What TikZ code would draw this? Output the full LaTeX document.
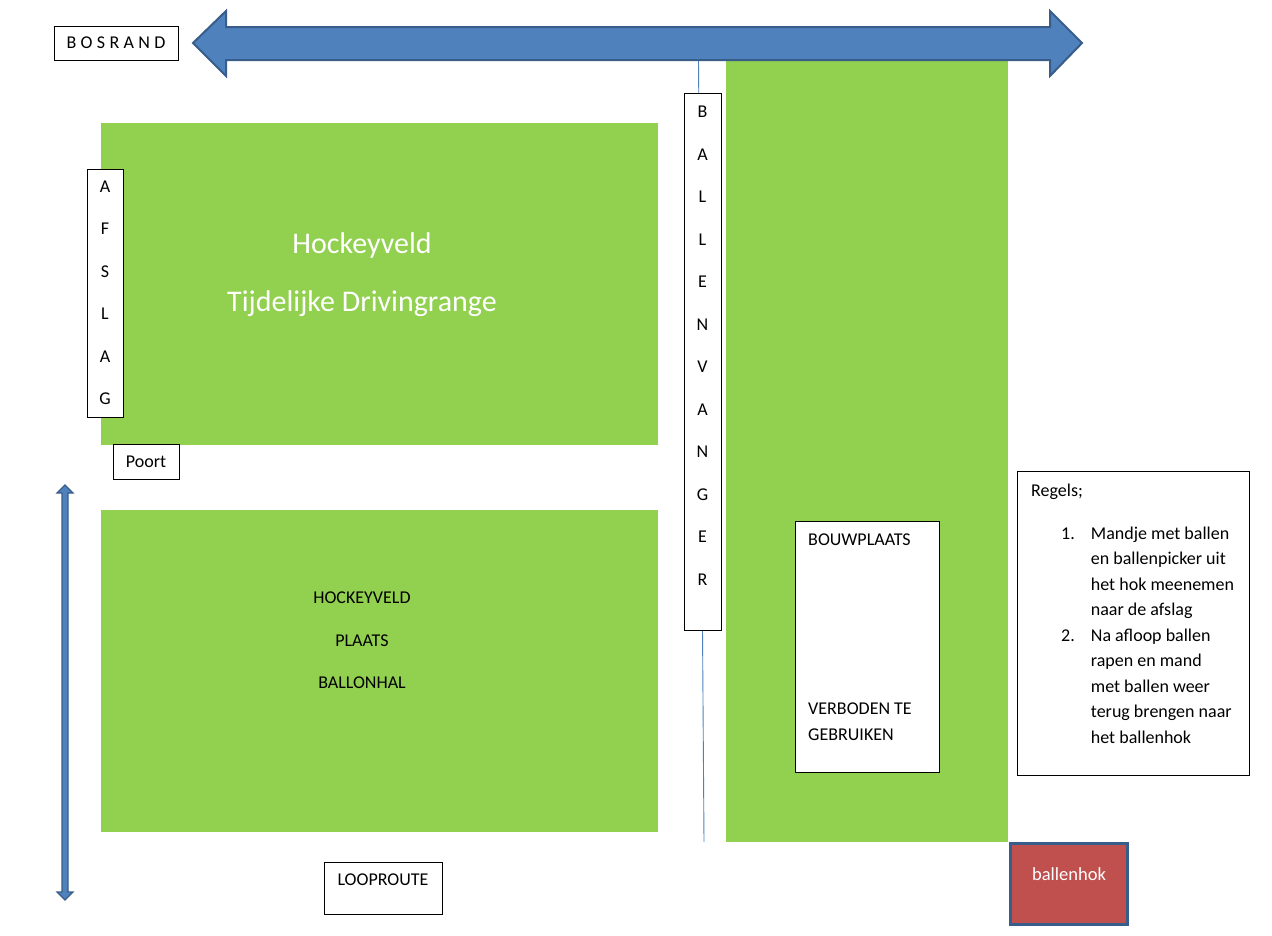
\documentclass[tikz,border=0pt]{standalone}
\usepackage{fontspec}
\setmainfont{Carlito}
\usetikzlibrary{positioning}

\definecolor{grasgroen}{HTML}{92D050}
\definecolor{pijlblauw}{HTML}{4F81BD}
\definecolor{pijlrand}{HTML}{385D8A}
\definecolor{hokrood}{HTML}{C0504D}

\begin{document}
\begin{tikzpicture}
  [x=1pt, y=-1pt,
  bord/.style={draw, fill=white, line width=1pt, inner sep=0pt},
  tekst/.style={font=\fontsize{18}{25.5}\selectfont, inner sep=0pt},
  stapel/.style={font=\fontsize{18}{42.5}\selectfont, align=center, inner sep=0pt},
  groot/.style={font=\fontsize{30}{36}\selectfont, text=white, inner sep=0pt},
  pijl/.style={fill=pijlblauw, draw=pijlrand, line join=miter}]
\useasboundingbox (0,0) rectangle (1272,935);

\draw [pijlblauw, line width=0.9pt] (698.5,60) -- (704,842);
\fill [grasgroen] (101,123) rectangle (658,445);
\fill [grasgroen] (101,510) rectangle (658,832);
\fill [grasgroen] (726,60) rectangle (1008,842);

\draw [pijl, line width=2pt] (193,43) -- (226,11) -- (226,27) -- (1050,27)
  -- (1050,11) -- (1082,43) -- (1050,76) -- (1050,60) -- (226,60)
  -- (226,76) -- cycle;
\draw [pijl, line width=1.2pt] (65,485) -- (73,493) -- (68,493) -- (68,892)
  -- (73,892) -- (65,900) -- (57,892) -- (62,892) -- (62,493)
  -- (57,493) -- cycle;

\node [bord, tekst, minimum width=124pt, minimum height=34pt] (bosrand) at (116,43)
  {B\hspace{4.3pt}O\hspace{4.3pt}S\hspace{4.3pt}R\hspace{4.3pt}A\hspace{4.3pt}N\hspace{4.3pt}D};

\node [groot, anchor=base] (hockeyveld) at (362,253.7) {Hockeyveld};
\node [groot, anchor=base] (drivingrange) at (362,311.7) {Tijdelijke Drivingrange};

\node [bord, stapel, minimum width=36pt, minimum height=248pt] (afslag) at (105,293)
  {A\\F\\S\\L\\A\\G};
\node [bord, tekst, minimum width=66pt, minimum height=35pt,
  text height=11.6pt, text depth=0pt] (poort) at (146,461.5) {Poort};

\node [bord, minimum width=37pt, minimum height=537pt] (vangerkader) at (702.5,361.5) {};
\node [stapel] (vanger) at (702.5,345.7) {B\\A\\L\\L\\E\\N\\V\\A\\N\\G\\E\\R};

\node [stapel] (ballonhal) at (362,640.7) {HOCKEYVELD\\PLAATS\\BALLONHAL};

\node [bord, minimum width=144pt, minimum height=251pt] (bouwplaats) at (867,646.5) {};
\node [tekst, anchor=base west] (bouwtekst) at (808,545.8) {BOUWPLAATS};
\node [tekst, anchor=base west] (verboden) at (808,714.8) {VERBODEN TE};
\node [tekst, anchor=base west] (gebruiken) at (808,740.8) {GEBRUIKEN};

\node [bord, minimum width=232pt, minimum height=304pt] (regels) at (1133,623) {};
\node [tekst, anchor=base west] (regelskop) at (1031,496.7) {Regels;};
\node [tekst, anchor=base west] (regellijst) at (1061,539)
  {\begin{tabular}[t]{@{}p{29.7pt}@{}l@{}}
   1. & Mandje met ballen\\
      & en ballenpicker uit\\
      & het hok meenemen\\
      & naar de afslag\\
   2. & Na afloop ballen\\
      & rapen en mand\\
      & met ballen weer\\
      & terug brengen naar\\
      & het ballenhok
  \end{tabular}};

\node [bord, minimum width=118pt, minimum height=52pt] (looproute) at (383,888) {};
\node [tekst, anchor=base] (looptekst) at (383,885.8) {LOOPROUTE};

\node [fill=hokrood, draw=pijlrand, line width=3pt, minimum width=117pt,
  minimum height=81pt, inner sep=0pt] (ballenhok) at (1069,884) {};
\node [tekst, text=white, font=\fontsize{18.5}{22}\selectfont, anchor=base] (hoktekst)
  at (1069,880) {ballenhok};
\end{tikzpicture}
\end{document}
